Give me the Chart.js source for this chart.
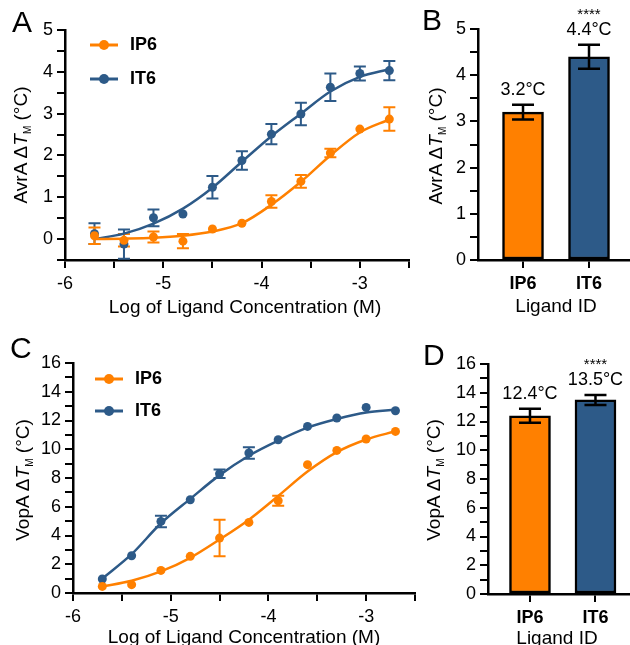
<!DOCTYPE html>
<html>
<head>
<meta charset="utf-8">
<script src="https://cdn.jsdelivr.net/npm/chart.js@4.4.1/dist/chart.umd.min.js"></script>
<style>
  html, body { margin: 0; padding: 0; background: #fff; }
  body { width: 630px; height: 645px; position: relative; overflow: hidden;
         font-family: "Liberation Sans", Arial, sans-serif; color: #000; }
  canvas { position: absolute; }
  .panel { position: absolute; font-size: 30px; line-height: 1; }
  .xt { position: absolute; font-size: 19px; line-height: 1; white-space: nowrap;
        transform: translate(-50%, -50%); }
  .yt { position: absolute; font-size: 19px; line-height: 1; white-space: nowrap;
        transform: translate(-50%, -50%) rotate(-90deg); }
  .yt sub { font-size: 10px; vertical-align: -4px; }
</style>
</head>
<body>
<canvas id="chartA" width="420" height="320" style="left:0;top:0"></canvas>
<canvas id="chartB" width="210" height="320" style="left:420px;top:0"></canvas>
<canvas id="chartC" width="420" height="325" style="left:0;top:320px"></canvas>
<canvas id="chartD" width="210" height="325" style="left:420px;top:320px"></canvas>

<div class="panel" style="left:12px;top:7px">A</div>
<div class="panel" style="left:422px;top:5px">B</div>
<div class="panel" style="left:10px;top:333px">C</div>
<div class="panel" style="left:423px;top:340px">D</div>

<div class="yt" style="left:22px;top:145px">AvrA Δ<i>T</i><sub>M</sub> (°C)</div>
<div class="yt" style="left:437px;top:146px">AvrA Δ<i>T</i><sub>M</sub> (°C)</div>
<div class="yt" style="left:24px;top:480px">VopA Δ<i>T</i><sub>M</sub> (°C)</div>
<div class="yt" style="left:435px;top:480px">VopA Δ<i>T</i><sub>M</sub> (°C)</div>

<div class="xt" style="left:245px;top:306px">Log of Ligand Concentration (M)</div>
<div class="xt" style="left:244px;top:636px">Log of Ligand Concentration (M)</div>
<div class="xt" style="left:556px;top:305px">Ligand ID</div>
<div class="xt" style="left:557px;top:637px">Ligand ID</div>

<script>
// ---- data ----
const ORANGE = '#FF8000';
const BLUE = '#2D5A88';

const logConc = [-5.7, -5.4, -5.1, -4.8, -4.5, -4.2, -3.9, -3.6, -3.3, -3.0, -2.7];

// AvrA thermal shift vs ligand concentration
const avrA_IP6    = [0.08, -0.03, 0.05, -0.05, 0.24, 0.38, 0.90, 1.38, 2.06, 2.63, 2.87];
const avrA_IP6_sd = [0.20, 0.15, 0.13, 0.17, 0, 0, 0.15, 0.15, 0.10, 0, 0.28];
const avrA_IT6    = [0.13, -0.12, 0.51, 0.60, 1.24, 1.88, 2.51, 2.99, 3.63, 3.96, 4.03];
const avrA_IT6_sd = [0.25, 0.35, 0.20, 0, 0.27, 0.22, 0.24, 0.27, 0.33, 0.17, 0.23];
const avrA_IP6_fit = [0.00, 0.01, 0.03, 0.08, 0.18, 0.38, 0.82, 1.37, 2.00, 2.55, 2.86];
const avrA_IT6_fit = [0.00, 0.13, 0.37, 0.73, 1.23, 1.85, 2.46, 3.00, 3.53, 3.88, 4.06];

// VopA thermal shift vs ligand concentration
const vopA_IP6    = [0.46, 0.58, 1.57, 2.55, 3.82, 4.91, 6.42, 8.93, 9.92, 10.71, 11.24];
const vopA_IP6_sd = [0, 0, 0, 0, 1.27, 0, 0.35, 0, 0, 0, 0];
const vopA_IT6    = [0.97, 2.59, 4.98, 6.49, 8.30, 9.74, 10.66, 11.59, 12.17, 12.91, 12.68];
const vopA_IT6_sd = [0, 0, 0.40, 0, 0.30, 0.40, 0, 0, 0, 0, 0];
const vopA_IP6_fit = [0.45, 0.85, 1.50, 2.45, 3.72, 5.10, 6.75, 8.45, 9.80, 10.68, 11.25];
const vopA_IT6_fit = [1.00, 2.70, 4.85, 6.55, 8.20, 9.55, 10.60, 11.50, 12.10, 12.55, 12.75];

// maximal thermal shift per ligand
const ligands = ['IP6', 'IT6'];
const ligandColors = [ORANGE, BLUE];
const avrA_dTm    = [3.2, 4.4];
const avrA_dTm_sd = [0.16, 0.26];
const vopA_dTm    = [12.4, 13.5];
const vopA_dTm_sd = [0.48, 0.35];
const significance = ['', '****'];

// ---- drawing ----
const FONT = '"Liberation Sans", Arial, sans-serif';
Chart.defaults.font.family = FONT;
Chart.defaults.color = '#000';

const isInt = v => Math.abs(v - Math.round(v)) < 1e-9;

function drawErrorBars(chart, opts) {
  const ctx = chart.ctx, ys = chart.scales.y;
  (opts.sets || []).forEach(s => {
    const meta = chart.getDatasetMeta(s.dataset);
    const pts = chart.data.datasets[s.dataset].data;
    ctx.save();
    ctx.strokeStyle = s.color;
    ctx.lineWidth = s.width;
    meta.data.forEach((el, i) => {
      const e = s.errors[i];
      if (!e) return;
      const v = pts[i].y;
      const x = el.x, y1 = ys.getPixelForValue(v + e), y2 = ys.getPixelForValue(v - e);
      const h = s.cap / 2;
      ctx.beginPath();
      ctx.moveTo(x, y1); ctx.lineTo(x, y2);
      ctx.moveTo(x - h, y1); ctx.lineTo(x + h, y1);
      ctx.moveTo(x - h, y2); ctx.lineTo(x + h, y2);
      ctx.stroke();
    });
    ctx.restore();
  });
}

const errorBarPlugin = {
  id: 'errorBars',
  beforeDatasetsDraw(chart, args, opts) { if (opts.under) drawErrorBars(chart, opts); },
  afterDatasetsDraw(chart, args, opts) { if (!opts.under) drawErrorBars(chart, opts); }
};

const curveLegendPlugin = {
  id: 'curveLegend',
  afterDraw(chart, args, opts) {
    if (!opts.items) return;
    const ctx = chart.ctx;
    opts.items.forEach((it, i) => {
      const y = opts.y + i * opts.dy;
      ctx.save();
      ctx.strokeStyle = it.color;
      ctx.lineWidth = 3;
      ctx.beginPath(); ctx.moveTo(opts.x, y); ctx.lineTo(opts.x + 28, y); ctx.stroke();
      ctx.fillStyle = it.color;
      ctx.beginPath(); ctx.arc(opts.x + 14, y, 5, 0, Math.PI * 2); ctx.fill();
      ctx.fillStyle = '#000';
      ctx.font = 'bold 18px ' + FONT;
      ctx.textAlign = 'left';
      ctx.textBaseline = 'middle';
      ctx.fillText(it.label, opts.x + 40, y);
      ctx.restore();
    });
  }
};

const barLabelPlugin = {
  id: 'barLabels',
  afterDatasetsDraw(chart, args, opts) {
    if (!opts.values) return;
    const ctx = chart.ctx, ys = chart.scales.y, meta = chart.getDatasetMeta(0);
    ctx.save();
    ctx.fillStyle = '#000';
    ctx.textAlign = 'center';
    ctx.textBaseline = 'middle';
    meta.data.forEach((el, i) => {
      const top = ys.getPixelForValue(opts.values[i] + opts.errors[i]);
      ctx.font = '18px ' + FONT;
      ctx.fillText(opts.values[i].toFixed(1) + '°C', el.x, top - 15);
      if (opts.marks[i]) {
        ctx.font = '15px ' + FONT;
        ctx.fillText(opts.marks[i], el.x, top - 30);
      }
    });
    ctx.restore();
  }
};

const gridStyle = { drawOnChartArea: false, drawTicks: true, tickLength: 8, color: '#000', lineWidth: 2 };
const borderStyle = { color: '#000', width: 2.5 };

function xy(xs, ys) { return xs.map((x, i) => ({ x: x, y: ys[i] })); }

function doseChart(id, cfg) {
  const pointSet = (label, ys, color) => ({
    label: label, data: xy(logConc, ys), showLine: false,
    pointRadius: 4.5, pointHoverRadius: 4.5, pointBorderWidth: 0,
    pointBackgroundColor: color, borderColor: color, backgroundColor: color
  });
  const fitSet = (ys, color) => ({
    data: xy(logConc, ys), borderColor: color, borderWidth: 2.5,
    pointRadius: 0, cubicInterpolationMode: 'monotone', fill: false
  });
  return new Chart(document.getElementById(id), {
    type: 'line',
    data: {
      datasets: [
        pointSet(ligands[0], cfg.ip6, ORANGE),
        pointSet(ligands[1], cfg.it6, BLUE),
        fitSet(cfg.ip6Fit, ORANGE),
        fitSet(cfg.it6Fit, BLUE)
      ]
    },
    options: {
      responsive: false, animation: false, devicePixelRatio: 1,
      layout: { padding: cfg.pad },
      plugins: {
        legend: { display: false }, tooltip: { enabled: false },
        errorBars: {
          under: true,
          sets: [
            { dataset: 1, errors: cfg.it6Sd, color: BLUE, width: 2, cap: 12 },
            { dataset: 0, errors: cfg.ip6Sd, color: ORANGE, width: 2, cap: 12 }
          ]
        },
        curveLegend: {
          x: cfg.legend.x, y: cfg.legend.y, dy: cfg.legend.dy,
          items: ligands.map((l, i) => ({ label: l, color: ligandColors[i] }))
        }
      },
      scales: {
        x: {
          type: 'linear', min: -6, max: -2.5,
          ticks: { stepSize: 0.5, autoSkip: false, maxRotation: 0, padding: 5,
                   font: { size: 18 }, color: '#000',
                   callback: v => isInt(v) ? String(Math.round(v)) : '' },
          grid: gridStyle, border: borderStyle,
          afterFit: s => { s.height = cfg.xH; }
        },
        y: {
          type: 'linear', min: cfg.yMin, max: cfg.yMax,
          ticks: { stepSize: cfg.yStep, autoSkip: false, padding: 4,
                   font: { size: 18 }, color: '#000', callback: cfg.yLabel },
          grid: gridStyle, border: borderStyle,
          afterFit: s => { s.width = cfg.yW; }
        }
      }
    },
    plugins: [errorBarPlugin, curveLegendPlugin]
  });
}

function barChart(id, cfg) {
  return new Chart(document.getElementById(id), {
    type: 'bar',
    data: {
      datasets: [{
        data: xy(ligands.map((_, i) => i), cfg.values),
        backgroundColor: ligandColors, borderColor: '#000', borderWidth: 2.5,
        borderSkipped: false, barThickness: 41
      }]
    },
    options: {
      responsive: false, animation: false, devicePixelRatio: 1,
      layout: { padding: cfg.pad },
      plugins: {
        legend: { display: false }, tooltip: { enabled: false },
        errorBars: { under: false,
          sets: [{ dataset: 0, errors: cfg.errors, color: '#000', width: 2.5, cap: 22 }] },
        barLabels: { values: cfg.values, errors: cfg.errors, marks: significance }
      },
      scales: {
        x: {
          type: 'linear', min: cfg.xMin, max: cfg.xMax, offset: false,
          afterBuildTicks: s => { s.ticks = ligands.map((_, i) => ({ value: i })); },
          ticks: { autoSkip: false, maxRotation: 0, padding: 5,
                   font: { size: 18, weight: 'bold' }, color: '#000',
                   callback: v => ligands[Math.round(v)] },
          grid: Object.assign({}, gridStyle, { offset: false }), border: borderStyle,
          afterFit: s => { s.height = cfg.xH; }
        },
        y: {
          type: 'linear', min: 0, max: cfg.yMax,
          ticks: { stepSize: cfg.yStep, autoSkip: false, padding: 4,
                   font: { size: 18 }, color: '#000', callback: cfg.yLabel },
          grid: gridStyle, border: borderStyle,
          afterFit: s => { s.width = cfg.yW; }
        }
      }
    },
    plugins: [errorBarPlugin, barLabelPlugin]
  });
}

const intLabel = v => isInt(v) ? String(Math.round(v)) : '';
const evenLabel = v => (isInt(v) && Math.round(v) % 2 === 0) ? String(Math.round(v)) : '';

doseChart('chartA', {
  ip6: avrA_IP6, ip6Sd: avrA_IP6_sd, it6: avrA_IT6, it6Sd: avrA_IT6_sd,
  ip6Fit: avrA_IP6_fit, it6Fit: avrA_IT6_fit,
  yMin: -0.5, yMax: 5, yStep: 0.5, yLabel: intLabel,
  pad: { top: 30, right: 11, bottom: 0, left: 0 }, yW: 65, xH: 60,
  legend: { x: 90, y: 45, dy: 34 }
});

doseChart('chartC', {
  ip6: vopA_IP6, ip6Sd: vopA_IP6_sd, it6: vopA_IT6, it6Sd: vopA_IT6_sd,
  ip6Fit: vopA_IP6_fit, it6Fit: vopA_IT6_fit,
  yMin: 0, yMax: 16, yStep: 1, yLabel: evenLabel,
  pad: { top: 43, right: 2, bottom: 0, left: 0 }, yW: 73, xH: 52,
  legend: { x: 95, y: 59, dy: 32 }
});

barChart('chartB', {
  values: avrA_dTm, errors: avrA_dTm_sd,
  yMax: 5, yStep: 0.5, yLabel: intLabel,
  xMin: -0.682, xMax: 1.621,
  pad: { top: 29, right: 0, bottom: 0, left: 0 }, yW: 58, xH: 60
});

barChart('chartD', {
  values: vopA_dTm, errors: vopA_dTm_sd,
  yMax: 16, yStep: 1, yLabel: evenLabel,
  xMin: -0.641, xMax: 1.527,
  pad: { top: 44, right: 0, bottom: 0, left: 0 }, yW: 68, xH: 51
});
</script>
</body>
</html>
